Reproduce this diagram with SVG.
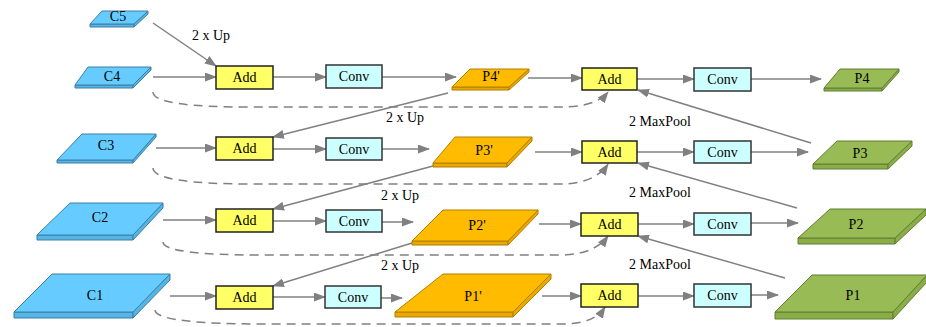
<svg xmlns="http://www.w3.org/2000/svg" width="926" height="327" viewBox="0 0 926 327" font-family="'Liberation Serif', 'Times New Roman', serif">
<defs>
<marker id="ah" markerUnits="userSpaceOnUse" markerWidth="12" markerHeight="9" refX="11" refY="4.5" orient="auto">
<path d="M0,0 L12,4.5 L0,9 z" fill="#808080"/>
</marker>
<style>
text{font-family:"Liberation Serif","Times New Roman",serif;font-size:14px;fill:#000;text-anchor:middle}
.lbl{text-anchor:start}
.add{fill:#FFFF66;stroke:#222;stroke-width:1.5}
.conv{fill:#CCFFFF;stroke:#333;stroke-width:1.5}
.bt{fill:#66CCFF;stroke:#3C7FA6;stroke-width:1}
.bs{fill:#55B5E5;stroke:#3C7FA6;stroke-width:1}
.ot{fill:#FFBB00;stroke:#B07F00;stroke-width:1}
.os{fill:#EBA800;stroke:#B07F00;stroke-width:1}
.gt{fill:#99BB55;stroke:#5F7F32;stroke-width:1}
.gs{fill:#8AAD48;stroke:#5F7F32;stroke-width:1}
.c{fill:none;stroke:#808080;stroke-width:1.5;marker-end:url(#ah)}
.d{fill:none;stroke:#808080;stroke-width:1.5;stroke-dasharray:9,6;marker-end:url(#ah)}
</style>
</defs>
<g id="connectors">
<path class="c" d="M153,23 L216,66"/>
<path class="c" d="M153,77 L216,77"/>
<path class="c" d="M273,77 L326,77"/>
<path class="c" d="M382,77 L456,77"/>
<path class="d" d="M153,92 C153,103 190,107 250,107 L560,107 C585,107 600,102 608,92"/>
<path class="c" d="M528,78 L582,78"/>
<path class="c" d="M448,93 L273,137"/>
<path class="c" d="M637,79 L694,79"/>
<path class="c" d="M751,79 L821,79"/>
<path class="c" d="M811,143 L638,90"/>
<path class="c" d="M156,148 L216,148"/>
<path class="c" d="M273,149 L326,149"/>
<path class="c" d="M382,149 L429,149"/>
<path class="d" d="M153,168 C153,179 190,184 250,184 L560,184 C585,184 600,176 608,164"/>
<path class="c" d="M535,152 L582,152"/>
<path class="c" d="M433,166 L273,209"/>
<path class="c" d="M637,152 L694,152"/>
<path class="c" d="M751,152 L808,152"/>
<path class="c" d="M797,208 L638,163"/>
<path class="c" d="M163,220 L216,220"/>
<path class="c" d="M273,221 L326,221"/>
<path class="c" d="M382,222 L413,222"/>
<path class="d" d="M163,242 C163,251 200,255 260,255 L560,255 C585,255 600,247 608,236"/>
<path class="c" d="M539,224 L581,224"/>
<path class="c" d="M412,243 L273,286"/>
<path class="c" d="M638,224 L694,224"/>
<path class="c" d="M751,223 L798,223"/>
<path class="c" d="M785,278 L638,236"/>
<path class="c" d="M170,296 L216,296"/>
<path class="c" d="M273,297 L325,297"/>
<path class="c" d="M381,298 L402,298"/>
<path class="d" d="M155,310 C155,320 200,324 260,324 L560,324 C585,324 598,318 605,307"/>
<path class="c" d="M542,296 L581,296"/>
<path class="c" d="M638,296 L694,296"/>
<path class="c" d="M751,295 L778,295"/>
<text class="lbl" x="192" y="40">2 x Up</text>
<text class="lbl" x="386" y="122">2 x Up</text>
<text class="lbl" x="381" y="200">2 x Up</text>
<text class="lbl" x="381" y="270">2 x Up</text>
<text class="lbl" x="629" y="126">2 MaxPool</text>
<text class="lbl" x="629" y="197">2 MaxPool</text>
<text class="lbl" x="629" y="269">2 MaxPool</text>
</g>
<g id="C5"><polygon class="bs" points="90,24 134,24 134,27 90,27"/><polygon class="bs" points="134,24 148,11 148,14 134,27"/><polygon class="bt" points="102,11 148,11 134,24 90,24"/><text x="118" y="21">C5</text></g>
<g id="C4"><polygon class="bs" points="75,85 133,85 133,88 75,88"/><polygon class="bs" points="133,85 151,67 151,70 133,88"/><polygon class="bt" points="88,67 151,67 133,85 75,85"/><text x="112" y="81">C4</text></g>
<g id="C3"><polygon class="bs" points="57,160 133,160 133,163 57,163"/><polygon class="bs" points="133,160 156,134 156,137 133,163"/><polygon class="bt" points="82,134 156,134 133,160 57,160"/><text x="106" y="150">C3</text></g>
<g id="C2"><polygon class="bs" points="37,235 133,235 133,240 37,240"/><polygon class="bs" points="133,235 163,203 163,208 133,240"/><polygon class="bt" points="70,203 163,203 133,235 37,235"/><text x="100" y="222">C2</text></g>
<g id="C1"><polygon class="bs" points="14,312 133,312 133,318 14,318"/><polygon class="bs" points="133,312 170,274 170,280 133,318"/><polygon class="bt" points="52,274 170,274 133,312 14,312"/><text x="95" y="300">C1</text></g>
<g id="Add4a"><rect class="add" x="216" y="66" width="57" height="23"/><text x="244.5" y="82">Add</text></g>
<g id="Add3a"><rect class="add" x="216" y="137" width="57" height="23"/><text x="244.5" y="153">Add</text></g>
<g id="Add2a"><rect class="add" x="216" y="209" width="57" height="23"/><text x="244.5" y="225">Add</text></g>
<g id="Add1a"><rect class="add" x="216" y="286" width="57" height="23"/><text x="244.5" y="302">Add</text></g>
<g id="Conv4a"><rect class="conv" x="326" y="65" width="56" height="23"/><text x="354" y="81">Conv</text></g>
<g id="Conv3a"><rect class="conv" x="326" y="138" width="56" height="22"/><text x="354" y="154">Conv</text></g>
<g id="Conv2a"><rect class="conv" x="326" y="210" width="56" height="22"/><text x="354" y="226">Conv</text></g>
<g id="Conv1a"><rect class="conv" x="325" y="286" width="56" height="22"/><text x="353" y="302">Conv</text></g>
<g id="P4p"><polygon class="os" points="452,87 509,87 509,90 452,90"/><polygon class="os" points="509,87 529,69 529,72 509,90"/><polygon class="ot" points="470,69 529,69 509,87 452,87"/><text x="491" y="81">P4'</text></g>
<g id="P3p"><polygon class="os" points="433,163 507,163 507,167 433,167"/><polygon class="os" points="507,163 532,137 532,141 507,167"/><polygon class="ot" points="455,137 532,137 507,163 433,163"/><text x="484" y="155">P3'</text></g>
<g id="P2p"><polygon class="os" points="412,241 508,241 508,245 412,245"/><polygon class="os" points="508,241 538,210 538,214 508,245"/><polygon class="ot" points="443,210 538,210 508,241 412,241"/><text x="477" y="230">P2'</text></g>
<g id="P1p"><polygon class="os" points="395,312 513,312 513,317 395,317"/><polygon class="os" points="513,312 551,274 551,279 513,317"/><polygon class="ot" points="443,274 551,274 513,312 395,312"/><text x="473" y="301">P1'</text></g>
<g id="Add4b"><rect class="add" x="582" y="68" width="55" height="22"/><text x="609.5" y="84">Add</text></g>
<g id="Add3b"><rect class="add" x="582" y="141" width="55" height="22"/><text x="609.5" y="157">Add</text></g>
<g id="Add2b"><rect class="add" x="581" y="213" width="57" height="23"/><text x="609.5" y="229">Add</text></g>
<g id="Add1b"><rect class="add" x="581" y="284" width="57" height="23"/><text x="609.5" y="300">Add</text></g>
<g id="Conv4b"><rect class="conv" x="694" y="68" width="57" height="23"/><text x="722.5" y="84">Conv</text></g>
<g id="Conv3b"><rect class="conv" x="694" y="141" width="57" height="22"/><text x="722.5" y="157">Conv</text></g>
<g id="Conv2b"><rect class="conv" x="694" y="213" width="57" height="22"/><text x="722.5" y="229">Conv</text></g>
<g id="Conv1b"><rect class="conv" x="694" y="284" width="57" height="23"/><text x="722.5" y="300">Conv</text></g>
<g id="P4"><polygon class="gs" points="824,88 882,88 882,91 824,91"/><polygon class="gs" points="882,88 899,69 899,72 882,91"/><polygon class="gt" points="840,69 899,69 882,88 824,88"/><text x="862" y="83">P4</text></g>
<g id="P3"><polygon class="gs" points="813,164 888,164 888,169 813,169"/><polygon class="gs" points="888,164 912,141 912,146 888,169"/><polygon class="gt" points="837,141 912,141 888,164 813,164"/><text x="860" y="158">P3</text></g>
<g id="P2"><polygon class="gs" points="798,238 895,238 895,244 798,244"/><polygon class="gs" points="895,238 926,209 926,215 895,244"/><polygon class="gt" points="830,209 926,209 895,238 798,238"/><text x="856" y="229">P2</text></g>
<g id="P1"><polygon class="gs" points="775,312 893,312 893,319 775,319"/><polygon class="gs" points="893,312 927,275 927,282 893,319"/><polygon class="gt" points="812,275 927,275 893,312 775,312"/><text x="853" y="300">P1</text></g>
</svg>
